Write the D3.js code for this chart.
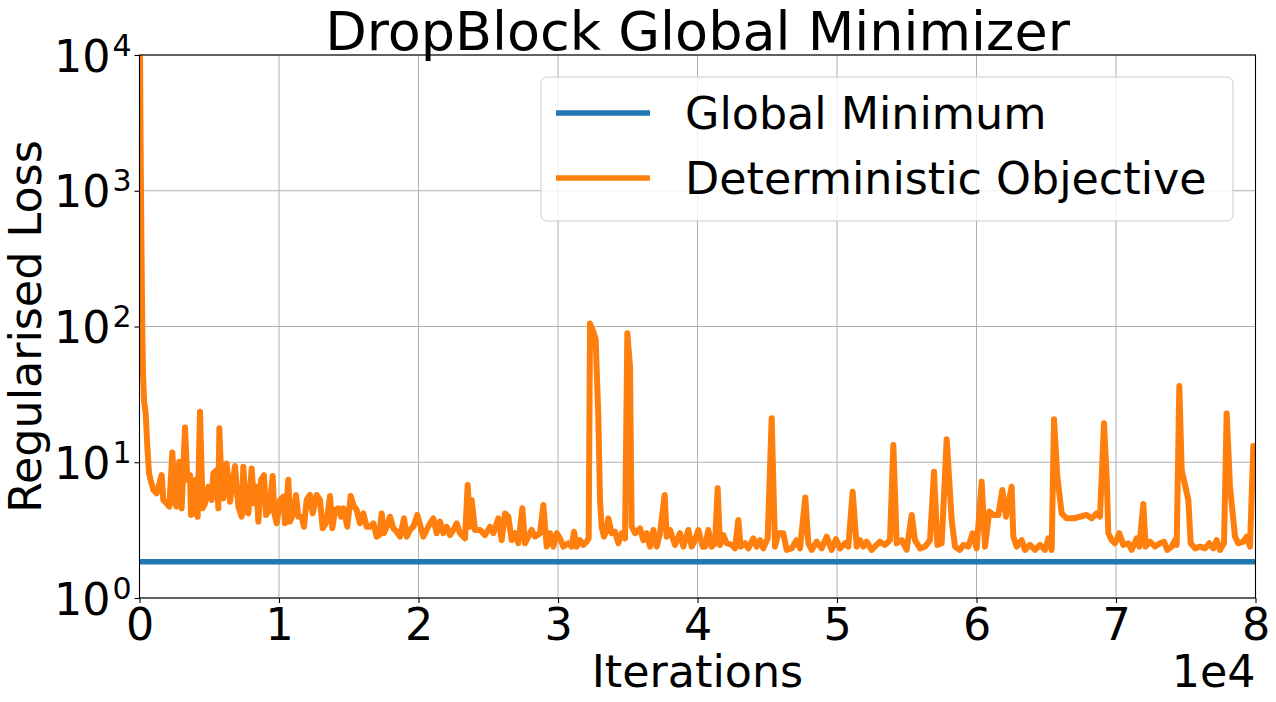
<!DOCTYPE html>
<html><head><meta charset="utf-8">
<script src="https://cdn.jsdelivr.net/npm/d3@7/dist/d3.min.js"></script>
<style>
html,body{margin:0;padding:0;background:#fff;}
text{font-family:"DejaVu Sans",sans-serif;fill:#000;}
</style></head>
<body><svg id="chart" width="1276" height="702"></svg>
<script>
// ---------- data ----------
const titleText = "DropBlock Global Minimizer";
const xLabel = "Iterations";
const yLabel = "Regularised Loss";
const xTicks = [0, 10000, 20000, 30000, 40000, 50000, 60000, 70000, 80000];
const yTicks = [1, 10, 100, 1000, 10000];
const seriesNames = ["Global Minimum", "Deterministic Objective"];
const globalMinimum = 1.85;

const iterations = [
0,70,140,200,250,330,442,562,681,800,992,1231,
1589,1708,1947,2139,2354,2545,2664,2855,3023,3262,3429,3620,3692,3859,4026,4170,4337,4528,4695,4934,
5173,5293,5532,5651,5723,5890,6010,6249,6488,6607,6846,7085,7324,7443,7634,7802,8041,8208,8399,8519,
8710,8925,9068,9235,9355,9546,9665,9833,10072,10311,10430,10669,10788,11027,11219,11386,11625,11792,
11983,12222,12413,12700,12939,13130,13417,13656,13823,14014,14253,14444,14612,14898,15138,15377,15568,
15806,16045,16285,16524,16762,17001,17192,17360,17527,17718,17957,18196,18435,18674,18961,19152,19391,
19630,19916,
20347,20586,20824,21063,21303,21541,21780,22019,22258,22497,22736,22975,23333,23525,23692,23812,24050,
24409,24767,25126,25364,25723,25962,26201,26439,26679,26918,27156,27443,27635,27874,28113,28351,28710,
28949,29188,29427,29666,29905,30144,30382,30741,30980,31147,31338,31577,31816,32055,32200,32294,32533,
32700,32891,33011,33130,33298,33489,33608,33847,34086,34325,34564,34803,34970,35162,35281,35520,35879,
36118,36357,36595,36834,37073,37312,37647,37790,38029,38388,38746,38985,39344,39582,39821,40060,
40371,40538,40777,41016,41255,41446,41613,41852,42091,42450,42688,42927,43095,43405,43644,44003,44242,
44481,44720,45030,45317,45556,45795,46153,46392,46751,47109,47348,47730,47945,48184,48543,48901,49260,
49618,49929,50215,50574,50813,51124,51411,51649,51888,52127,52486,52844,53083,53442,53800,54039,54278,
54637,54995,55354,55592,55951,56309,56668,56955,57193,57504,57862,58221,58460,58818,59057,59416,59726,
60013,
60371,60610,60920,61207,61566,61852,62115,62521,62641,62880,63238,63477,63836,64194,64552,64911,65150,
65389,65556,65795,66106,66464,66942,67420,67898,68256,68615,68853,69140,69331,69451,69690,69929,70240,
70526,70885,71124,71482,71673,71960,72127,72438,72796,73155,73441,73680,73991,74229,74349,74540,74708,
75186,75353,75664,76022,76381,76691,76978,77217,77456,77742,77934,78172,78531,78770,79128,79367,79606,
79845,80000
];
const loss = [
50000,3000,400,100,45,28,23,13,8.3,7.4,6.25,5.9,
8.05,5.27,4.98,4.71,11.8,4.98,4.71,10.1,4.58,18.0,7.42,8.05,4.09,4.2,7.42,3.97,23.6,4.58,4.98,6.6,
5.27,8.28,8.77,4.58,17.8,6.25,5.42,9.8,5.12,6.25,9.4,4.71,3.97,9.28,4.33,4.2,9.0,4.98,6.6,3.65,
7.42,8.05,4.09,4.33,4.98,7.92,4.2,3.55,5.27,5.58,3.55,7.42,3.65,4.2,5.74,3.97,3.97,3.35,
5.27,5.74,4.2,5.74,5.27,3.26,3.65,5.64,3.26,4.45,4.58,3.97,4.58,3.35,5.64,4.71,4.45,
3.55,4.2,3.35,3.35,3.55,2.83,2.91,4.2,3.0,3.35,3.97,3.26,3.08,2.83,3.86,2.83,3.17,
3.35,4.09,
2.83,3.17,3.55,3.86,3.0,3.65,3.0,3.35,2.91,3.17,3.55,3.0,2.75,6.8,3.35,5.27,3.17,
3.17,2.91,3.35,3.0,3.86,2.67,4.2,3.97,2.67,3.0,2.53,4.58,2.53,2.83,3.17,2.83,3.0,
4.84,2.39,3.0,2.39,3.0,2.75,2.39,2.53,2.39,3.08,2.39,2.67,2.46,2.6,2.75,105,91.6,
80,21.7,5.27,3.35,2.83,3.17,3.86,3.0,3.08,2.53,3.0,2.75,89,50.7,3.35,3.0,3.26,
2.67,3.0,2.39,3.17,2.39,3.0,5.74,2.83,3.17,2.46,3.0,2.39,3.17,2.39,2.67,3.17,
2.39,2.39,3.17,2.39,2.53,6.43,2.46,2.91,2.53,2.46,2.32,3.76,2.39,2.53,2.32,2.75,2.39,
2.67,2.32,2.75,21.1,2.39,3.0,3.0,2.26,2.32,2.67,2.32,5.51,2.53,2.26,2.6,2.32,2.83,
2.26,2.71,2.32,2.53,2.39,6.07,2.39,2.67,2.39,2.6,2.26,2.46,2.6,2.46,2.67,13.4,2.53,
2.67,2.26,4.09,2.67,2.32,2.39,2.67,8.52,2.46,2.53,14.8,3.76,2.39,2.26,2.46,2.39,3.0,
2.32,
7.2,2.39,4.33,4.09,4.09,6.25,3.97,6.6,2.83,2.39,2.67,2.26,2.46,2.26,2.46,2.26,2.75,
2.26,20.7,7.83,4.2,3.86,3.86,3.97,4.09,3.86,4.2,3.97,19.4,7.83,3.0,2.67,2.53,3.0,
2.46,2.53,2.26,2.75,2.39,4.93,2.39,2.6,2.39,2.53,2.6,2.26,2.39,2.67,2.46,36.5,8.77,
5.27,2.53,2.32,2.39,2.32,2.53,2.32,2.67,2.26,2.53,22.9,6.6,2.83,2.53,2.6,2.83,2.39,
13.2,12.5
];

// ---------- layout ----------
const svg = d3.select("#chart");
const m = {left: 139.5, right: 1255.5, top: 55, bottom: 598};
const x = d3.scaleLinear().domain([0, 80000]).range([m.left, m.right]);
const y = d3.scaleLog().domain([1, 10000]).range([m.bottom, m.top]);
const colors = ["#1f77b4", "#ff7f0e"];

svg.append("defs").append("clipPath").attr("id", "clip")
  .append("rect").attr("x", m.left).attr("y", m.top)
  .attr("width", m.right - m.left).attr("height", m.bottom - m.top);

// grid
const grid = svg.append("g");
grid.selectAll("line.vx").data(xTicks).join("line")
  .attr("x1", d => x(d)).attr("x2", d => x(d)).attr("y1", m.top).attr("y2", m.bottom)
  .attr("stroke", "#b0b0b0").attr("stroke-width", 1);
grid.selectAll("line.hy").data(yTicks).join("line")
  .attr("y1", d => y(d)).attr("y2", d => y(d)).attr("x1", m.left).attr("x2", m.right)
  .attr("stroke", "#b0b0b0").attr("stroke-width", 1);

// series
const plot = svg.append("g").attr("clip-path", "url(#clip)");
plot.append("line")
  .attr("x1", x(0)).attr("x2", x(80000)).attr("y1", y(globalMinimum)).attr("y2", y(globalMinimum))
  .attr("stroke", colors[0]).attr("stroke-width", 5.5);
const pts = iterations.map((it, i) => [it, loss[i]]);
plot.append("path").datum(pts)
  .attr("d", d3.line().x(d => x(d[0])).y(d => y(d[1])))
  .attr("fill", "none").attr("stroke", colors[1]).attr("stroke-width", 6)
  .attr("stroke-linejoin", "round").attr("stroke-linecap", "butt");

// axes
const xAxis = d3.axisBottom(x).tickValues(xTicks).tickFormat(d => d / 10000).tickSize(5).tickPadding(6);
const gx = svg.append("g").attr("transform", `translate(0,${m.bottom})`).call(xAxis);
gx.select(".domain").remove();
gx.selectAll(".tick line").attr("stroke", "#000").attr("stroke-width", 1.1);
gx.selectAll(".tick text").attr("font-size", 44.4).attr("font-family", "DejaVu Sans")
  .attr("dy", null).attr("y", 42);

const yAxis = d3.axisLeft(y).tickValues(yTicks).tickFormat(() => "").tickSize(5);
const gy = svg.append("g").attr("transform", `translate(${m.left},0)`).call(yAxis);
gy.select(".domain").remove();
gy.selectAll(".tick line").attr("stroke", "#000").attr("stroke-width", 1.1);
gy.selectAll(".tick text").remove();
gy.selectAll(".tick").each(function(d) {
  const t = d3.select(this).append("text")
    .attr("x", -8).attr("y", 16).attr("text-anchor", "end")
    .attr("font-size", 44.4).attr("font-family", "DejaVu Sans");
  t.append("tspan").text("10");
  t.append("tspan").attr("font-size", 30).attr("dy", -16).attr("dx", 2).text(Math.round(Math.log10(d)));
});

// spines
svg.append("rect").attr("x", m.left).attr("y", m.top)
  .attr("width", m.right - m.left).attr("height", m.bottom - m.top)
  .attr("fill", "none").attr("stroke", "#000").attr("stroke-width", 1.1);

// labels
svg.append("text").attr("x", (m.left + m.right) / 2).attr("y", 50).attr("text-anchor", "middle")
  .attr("font-size", 54).text(titleText);
svg.append("text").attr("x", (m.left + m.right) / 2).attr("y", 687).attr("text-anchor", "middle")
  .attr("font-size", 44.4).text(xLabel);
svg.append("text").attr("x", m.right).attr("y", 687).attr("text-anchor", "end")
  .attr("font-size", 44.4).text("1e4");
svg.append("text").attr("transform", `translate(41,${(m.top + m.bottom) / 2}) rotate(-90)`)
  .attr("text-anchor", "middle").attr("font-size", 44.4).text(yLabel);

// legend
const lg = svg.append("g");
lg.append("rect").attr("x", 541).attr("y", 77).attr("width", 692).attr("height", 144)
  .attr("rx", 6).attr("fill", "#fff").attr("fill-opacity", 0.8)
  .attr("stroke", "#cccccc").attr("stroke-width", 1);
seriesNames.forEach((name, i) => {
  const yy = 113 + i * 65;
  lg.append("line").attr("x1", 556).attr("x2", 650).attr("y1", yy).attr("y2", yy)
    .attr("stroke", colors[i]).attr("stroke-width", 5.5);
  lg.append("text").attr("x", 685).attr("y", yy + 16).attr("font-size", 44.4).text(name);
});
</script></body></html>
